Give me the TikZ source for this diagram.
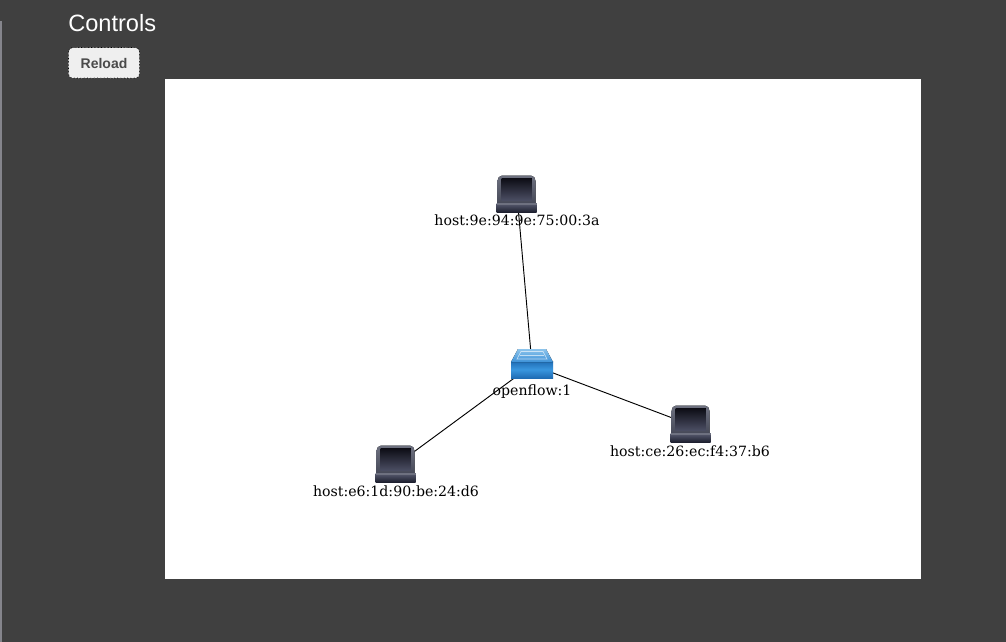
\documentclass[tikz,border=0pt]{standalone}
\usepackage{fontspec}
\setmainfont{Liberation Sans}
\newfontfamily\labelfont{DejaVu Serif}
\definecolor{pagebg}{HTML}{404040}
\definecolor{btnbg}{HTML}{EFEFEF}
\definecolor{btntext}{HTML}{4A4A4A}
\definecolor{sidebar}{HTML}{85858C}
\definecolor{lapbodytop}{HTML}{6E7180}
\definecolor{lapbodybot}{HTML}{3A3D4C}
\definecolor{lapscreentop}{HTML}{0C0C14}
\definecolor{lapscreenbot}{HTML}{4A4D62}
\definecolor{lapbasetop}{HTML}{5A5E72}
\definecolor{lapbasebot}{HTML}{1E2030}
\definecolor{swside}{HTML}{1F6CB4}
\definecolor{swmid}{HTML}{3A96DE}
\definecolor{swtoptop}{HTML}{8CC4EC}
\definecolor{swtopbot}{HTML}{3E92D8}
\tikzset{
  x=0.75pt,y=-0.75pt,
  iconbox/.style={inner sep=0pt,minimum width=30pt,minimum height=26pt},
  netlabel/.style={inner sep=0pt,font=\labelfont\fontsize{10.6pt}{12pt}\selectfont,text=black,anchor=base},
  link/.style={draw=black,line width=0.7pt},
  pics/laptop/.style={code={
    \fill[rounded corners=1.5pt,top color=lapbodytop,bottom color=lapbodybot] (-19.5,17) -- (-19.5,-16) -- (-17,-19.5) -- (16,-19.5) -- (18.5,-16) -- (18.5,17) -- cycle;
    \fill[top color=lapscreentop,bottom color=lapscreenbot] (-15.5,-17) rectangle (14.5,5);
    \fill[top color=lapbasetop,bottom color=lapbasebot] (-20.5,8) rectangle (19.5,17);
    \fill[lapbodytop] (-20.5,8) rectangle (19.5,9.5);
  }},
  pics/netswitch/.style={code={
    \fill[top color=swside,bottom color=swside,middle color=swmid] (-21,-4) rectangle (21,13);
    \fill[top color=swtoptop,bottom color=swtopbot] (-14,-16) -- (14,-16) -- (21,-3) -- (-21,-3) -- cycle;
    \draw[white,opacity=.6,line width=.5pt] (-11,-13.5) -- (11,-13.5) -- (15,-6) -- (-15,-6) -- cycle;
    \draw[white,opacity=.6,line width=.5pt] (-12,-9.5) -- (12,-9.5);
  }}
}
\begin{document}
\begin{tikzpicture}
\useasboundingbox (0,0) rectangle (1006,642);
\fill[pagebg] (0,0) rectangle (1006,642);
\fill[sidebar] (0,21) rectangle (2,642);
\node[inner sep=0pt,anchor=base west,text=white,font=\fontsize{17.7pt}{20pt}\selectfont] (title) at (68,32) {Controls};
\node[draw=white,dotted,fill=btnbg,rounded corners=3pt,minimum width=53pt,minimum height=22.5pt,inner sep=0pt,text=btntext,font=\bfseries\fontsize{10.5pt}{12pt}\selectfont,text depth=0pt] (reload) at (104,63) {Reload};
\draw[black,dotted,line width=.5pt,rounded corners=3pt] (68.5,47.5) rectangle (139.5,78);
\fill[white] (165,79) rectangle (921,579);
% nodes
\node[iconbox] (h1) at (517,195) {};
\node[iconbox] (sw) at (532,365) {};
\node[iconbox] (h2) at (691,425) {};
\node[iconbox] (h3) at (396,465) {};
% links
\draw[link] (h1.center) -- (sw.center);
\draw[link] (sw.center) -- (h2.center);
\draw[link] (sw.center) -- (h3.center);
% icons
\pic at (h1.center) {laptop};
\pic at (h2.center) {laptop};
\pic at (h3.center) {laptop};
\pic at (sw.center) {netswitch};
% labels
\node[netlabel] (l1) at (517,225) {host:9e:94:9e:75:00:3a};
\node[netlabel] (l0) at (532,395) {openflow:1};
\node[netlabel] (l2) at (690,456) {host:ce:26:ec:f4:37:b6};
\node[netlabel] (l3) at (396,496) {host:e6:1d:90:be:24:d6};
\end{tikzpicture}
\end{document}
